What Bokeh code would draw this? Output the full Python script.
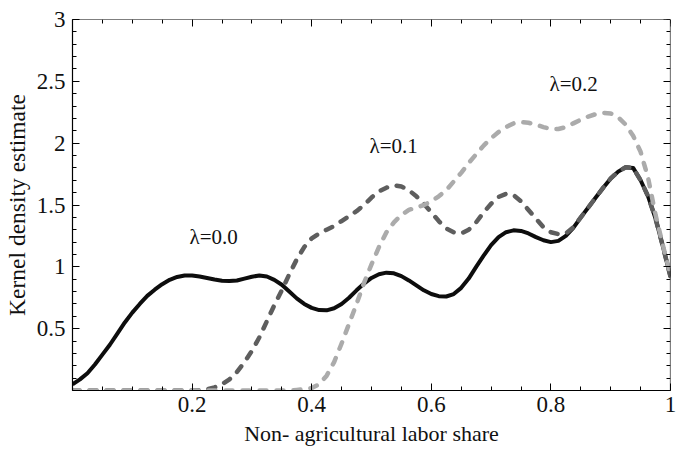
from bokeh.plotting import figure
from bokeh.models import (FixedTicker, LinearAxis, CustomJSTickFormatter, Range1d, ColumnDataSource)
from bokeh.core.properties import value
from bokeh.embed import file_html
from bokeh.resources import INLINE

# ---- data ----
x_share = [round(0.0125 * i, 4) for i in range(81)]

kde_lambda_00 = [0.05, 0.09, 0.14, 0.21, 0.29, 0.37, 0.46, 0.55, 0.63, 0.70,
                 0.765, 0.815, 0.86, 0.895, 0.918, 0.93, 0.93, 0.922, 0.91, 0.897,
                 0.888, 0.885, 0.89, 0.905, 0.92, 0.93, 0.922, 0.895, 0.855, 0.80,
                 0.745, 0.70, 0.668, 0.65, 0.648, 0.665, 0.70, 0.75, 0.81, 0.865,
                 0.91, 0.94, 0.953, 0.948, 0.925, 0.89, 0.85, 0.81, 0.78, 0.763,
                 0.76, 0.78, 0.83, 0.905, 1.00, 1.09, 1.175, 1.24, 1.28, 1.295,
                 1.29, 1.27, 1.24, 1.215, 1.20, 1.21, 1.25, 1.315, 1.40, 1.48,
                 1.56, 1.64, 1.715, 1.77, 1.805, 1.80, 1.70, 1.57, 1.39, 1.16, 0.92]

kde_lambda_01 = [0.0, 0.0, 0.0, 0.0, 0.0, 0.0, 0.0, 0.0, 0.0, 0.0,
                 0.0, 0.0, 0.0, 0.0, 0.0, 0.0, 0.0, 0.003, 0.01, 0.025,
                 0.05, 0.09, 0.15, 0.23, 0.32, 0.43, 0.56, 0.69, 0.81, 0.94,
                 1.06, 1.16, 1.23, 1.27, 1.30, 1.33, 1.37, 1.41, 1.45, 1.50,
                 1.56, 1.61, 1.64, 1.66, 1.65, 1.62, 1.57, 1.51, 1.44, 1.37,
                 1.31, 1.28, 1.27, 1.30, 1.36, 1.44, 1.51, 1.565, 1.59, 1.58,
                 1.53, 1.46, 1.39, 1.32, 1.28, 1.265, 1.27, 1.32, 1.40, 1.48,
                 1.56, 1.64, 1.715, 1.77, 1.805, 1.80, 1.70, 1.57, 1.39, 1.16, 0.92]

kde_lambda_02 = [0.0, 0.0, 0.0, 0.0, 0.0, 0.0, 0.0, 0.0, 0.0, 0.0,
                 0.0, 0.0, 0.0, 0.0, 0.0, 0.0, 0.0, 0.0, 0.0, 0.0,
                 0.0, 0.0, 0.0, 0.0, 0.0, 0.0, 0.0, 0.0, 0.0, 0.0,
                 0.005, 0.01, 0.02, 0.05, 0.12, 0.23, 0.38, 0.54, 0.70, 0.87,
                 1.02, 1.16, 1.28, 1.36, 1.42, 1.46, 1.48, 1.50, 1.53, 1.57,
                 1.62, 1.69, 1.76, 1.84, 1.91, 1.98, 2.04, 2.09, 2.13, 2.16,
                 2.17, 2.165, 2.15, 2.13, 2.115, 2.115, 2.13, 2.16, 2.19, 2.215,
                 2.235, 2.245, 2.24, 2.21, 2.15, 2.06, 1.93, 1.72, 1.42, 1.17, 0.93]

label_texts = ["\u03bb=0.0", "\u03bb=0.1", "\u03bb=0.2"]
label_x = [0.236, 0.537, 0.838]
label_y = [1.24, 1.98, 2.48]

x_major_ticks = [0.2, 0.4, 0.6, 0.8, 1.0]
x_minor_ticks = [round(0.05 * i, 2) for i in range(0, 21)]
y_major_ticks = [0.5, 1.0, 1.5, 2.0, 2.5, 3.0]
y_minor_ticks = [round(0.1 * i, 1) for i in range(0, 31)]

FONT = "Liberation Serif"

p = figure(width=678, height=455, output_backend="svg", toolbar_location=None,
           x_range=Range1d(0, 1), y_range=Range1d(0, 3),
           min_border_left=70, min_border_top=19, min_border_right=8,
           min_border_bottom=65)
p.xgrid.visible = False
p.ygrid.visible = False
p.outline_line_color = None
p.background_fill_color = "white"
p.border_fill_color = "white"

fmt = CustomJSTickFormatter(code="return String(Math.round(tick*100)/100);")
blank_fmt = CustomJSTickFormatter(code="return '';")

def style_axis(ax, show_labels=True):
    ax.axis_line_color = "black"
    ax.axis_line_width = 1.2
    ax.major_tick_in = 7
    ax.major_tick_out = 0
    ax.minor_tick_in = 4
    ax.minor_tick_out = 0
    ax.major_tick_line_color = "black"
    ax.minor_tick_line_color = "black"
    ax.major_label_text_font = FONT
    ax.major_label_text_font_size = "23px" if show_labels else "1px"
    ax.major_label_text_color = "#111111"
    ax.axis_label_text_font = FONT
    ax.axis_label_text_font_size = "22px"
    ax.axis_label_text_font_style = "normal"
    ax.axis_label_text_color = "#111111"
    ax.formatter = fmt if show_labels else blank_fmt

xt = FixedTicker(ticks=x_major_ticks, minor_ticks=x_minor_ticks)
yt = FixedTicker(ticks=y_major_ticks, minor_ticks=y_minor_ticks)

p.xaxis.ticker = xt
p.yaxis.ticker = yt
for ax in p.xaxis + p.yaxis:
    style_axis(ax)
p.xaxis.axis_label = "Non- agricultural labor share"
p.yaxis.axis_label = "Kernel density estimate"
p.yaxis.axis_label_text_font_size = "23.5px"
p.xaxis.major_label_standoff = 6
p.yaxis.major_label_standoff = 7
p.xaxis.axis_label_standoff = 6
p.yaxis.axis_label_standoff = 4

top = LinearAxis(ticker=FixedTicker(ticks=x_major_ticks, minor_ticks=x_minor_ticks),
                 fixed_location=3.0)
style_axis(top, show_labels=False)
top.major_label_standoff = 0
p.add_layout(top, "above")
right = LinearAxis(ticker=FixedTicker(ticks=y_major_ticks, minor_ticks=y_minor_ticks),
                   fixed_location=1.0)
style_axis(right, show_labels=False)
right.major_label_standoff = 0
p.add_layout(right, "right")

src = ColumnDataSource(dict(x=x_share, k0=kde_lambda_00, k1=kde_lambda_01, k2=kde_lambda_02))
p.line("x", "k0", source=src, line_color="#0d0d0d", line_width=4, line_join="round")
p.line("x", "k1", source=src, line_color="#5e5e5e", line_width=4.5,
       line_dash="7 10", line_cap="round", line_join="round")
p.line("x", "k2", source=src, line_color="#ababab", line_width=4.5,
       line_dash="7 10", line_cap="round", line_join="round")

lsrc = ColumnDataSource(dict(x=label_x, y=label_y, t=label_texts))
p.text("x", "y", text="t", source=lsrc, text_font=value(FONT), text_font_size="21px",
       text_align="center", text_baseline="middle", text_color="#111111")

open("out.html", "w").write(file_html(p, INLINE))
